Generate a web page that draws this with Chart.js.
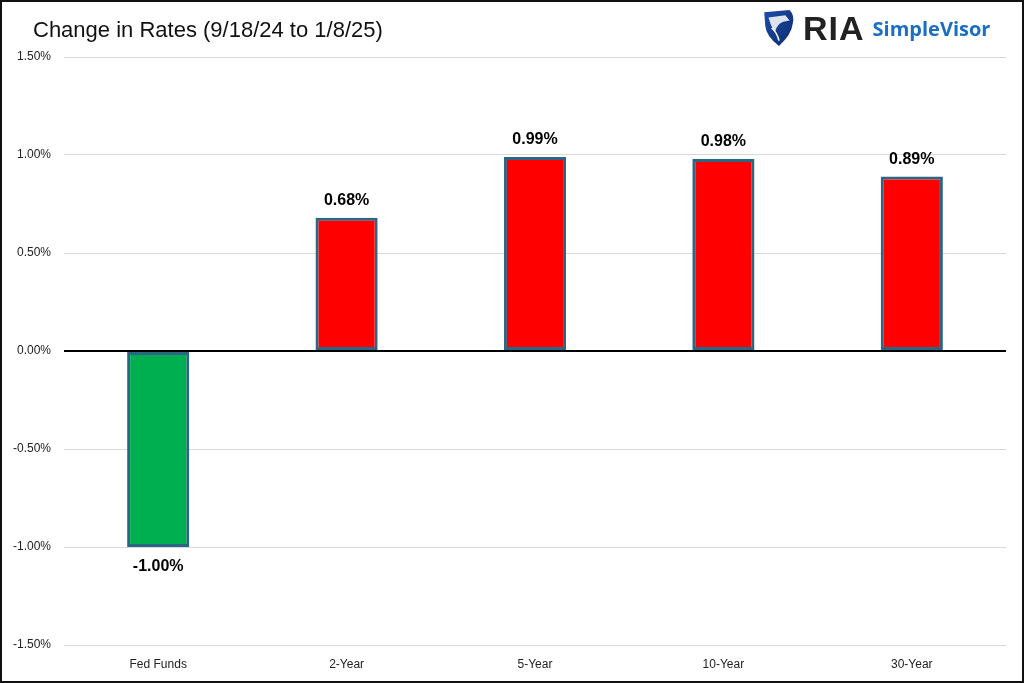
<!DOCTYPE html>
<html>
<head>
<meta charset="utf-8">
<script src="https://cdn.jsdelivr.net/npm/chart.js@4"></script>
<style>
  html, body { margin: 0; padding: 0; background: #fff; }
  #wrap { position: relative; width: 1024px; height: 683px; box-sizing: border-box; border: 2px solid #111; overflow: hidden; }
  #chart { position: absolute; left: -2px; top: -2px; }
  #title { position: absolute; left: 31px; top: 15px; font: 22px "Liberation Sans", Arial, sans-serif; color: #111; }
  #logo { position: absolute; left: 760px; top: 7px; height: 38px; display: flex; align-items: center; }
  #logo .ria { font: bold 34px "Liberation Sans", Arial, sans-serif; color: #222; margin-left: 7px; letter-spacing: 1px; }
  #logo .sv { font: bold 20px "Open Sans", "Liberation Sans", Arial, sans-serif; color: #1b6fc2; margin-left: 8px; }
</style>
</head>
<body>
<div id="wrap">
  <canvas id="chart" width="1024" height="683"></canvas>
  <div id="title">Change in Rates (9/18/24 to 1/8/25)</div>
  <div id="logo">
    <svg width="34" height="38" viewBox="0 0 32 36">
      <defs>
        <linearGradient id="g" x1="0" y1="0" x2="1" y2="1">
          <stop offset="0" stop-color="#1d4fa8"/>
          <stop offset="1" stop-color="#0d2a6e"/>
        </linearGradient>
      </defs>
      <path d="M2 3 L26 1 Q31 6 29 14 Q28 24 16 35 Q4 26 3 16 Z" fill="url(#g)"/>
      <path d="M6 8 L22 6 L26 11 L20 12 Q14 14 12 22 Q8 16 6 8 Z" fill="#fff" opacity="0.85"/>
      <path d="M9 18 Q14 22 16 30" stroke="#fff" stroke-width="1.5" fill="none"/>
    </svg>
    <span class="ria">RIA</span>
    <span class="sv">SimpleVisor</span>
  </div>
</div>
<script>
const categories = ['Fed Funds', '2-Year', '5-Year', '10-Year', '30-Year'];
const changes = [-1.00, 0.68, 0.99, 0.98, 0.89];
const barColors = ['#00b050', '#ff0000', '#ff0000', '#ff0000', '#ff0000'];

const valueLabels = {
    id: 'valueLabels',
    afterDatasetsDraw(chart) {
        const ctx = chart.ctx;
        const meta = chart.getDatasetMeta(0);
        ctx.save();
        ctx.font = 'bold 16px "Liberation Sans", Arial, sans-serif';
        ctx.fillStyle = '#000';
        ctx.textAlign = 'center';
        meta.data.forEach((bar, i) => {
            const v = changes[i];
            const txt = v.toFixed(2) + '%';
            if (v >= 0) {
                ctx.textBaseline = 'bottom';
                ctx.fillText(txt, bar.x, bar.y - 9);
            } else {
                ctx.textBaseline = 'top';
                ctx.fillText(txt, bar.x, bar.y + 12);
            }
        });
        ctx.restore();
    }
};

const ctx = document.getElementById('chart').getContext('2d');
new Chart(ctx, {
    type: 'bar',
    data: {
        labels: categories,
        datasets: [{
            data: changes,
            backgroundColor: barColors,
            borderColor: '#2b6684',
            borderWidth: 3,
            borderSkipped: false,
            barPercentage: 0.66,
            categoryPercentage: 0.5
        }]
    },
    options: {
        responsive: false,
        animation: false,
        layout: { padding: { top: 57, right: 18, bottom: 14, left: 0 } },
        plugins: { legend: { display: false }, tooltip: { enabled: false } },
        scales: {
            x: {
                afterFit(scale) { scale.height = 24; },
                grid: { display: false, drawTicks: false },
                border: { display: false },
                ticks: { color: '#222', font: { size: 12, family: '"Liberation Sans", Arial, sans-serif' }, padding: 12 }
            },
            y: {
                min: -1.5,
                max: 1.5,
                afterFit(scale) { scale.width = 64; },
                border: { display: false },
                grid: {
                    drawTicks: false,
                    color: c => c.tick && c.tick.value === 0 ? '#000' : '#d9d9d9',
                    lineWidth: c => c.tick && c.tick.value === 0 ? 2 : 1
                },
                ticks: {
                    stepSize: 0.5,
                    padding: 13,
                    color: '#222',
                    font: { size: 12, family: '"Liberation Sans", Arial, sans-serif' },
                    callback: v => v.toFixed(2) + '%'
                }
            }
        }
    },
    plugins: [valueLabels]
});
</script>
</body>
</html>
